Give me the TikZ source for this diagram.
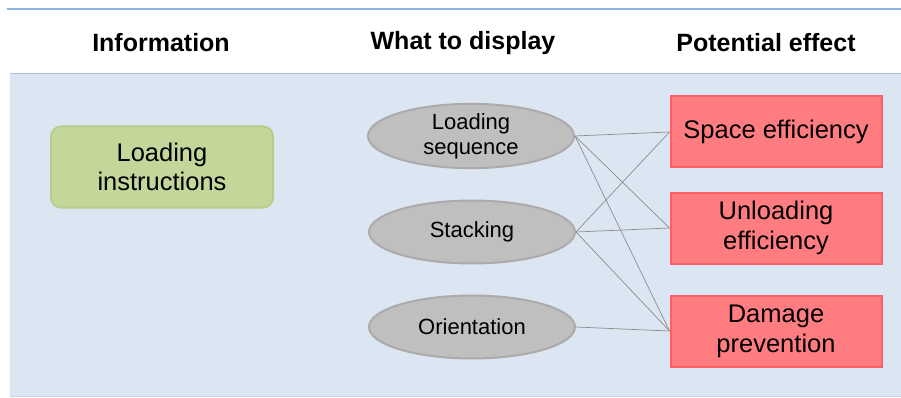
\documentclass[tikz,border=0pt]{standalone}
\usepackage{fontspec}
\setmainfont{Liberation Sans}
\usetikzlibrary{shapes.geometric}
\definecolor{ruleblue}{HTML}{8EB4E3}
\definecolor{panelblue}{HTML}{DCE6F2}
\definecolor{paneledge}{HTML}{C6D4E8}
\definecolor{greenfill}{HTML}{C4D79B}
\definecolor{greenline}{HTML}{B7CD8C}
\definecolor{grayfill}{HTML}{BFBFBF}
\definecolor{grayline}{HTML}{ABABAB}
\definecolor{redfill}{HTML}{FF7C80}
\definecolor{redline}{HTML}{FF5F64}
\definecolor{linkgray}{HTML}{8C8C8C}

\begin{document}
\begin{tikzpicture}[x=1pt, y=-1pt,
  head/.style={font=\fontsize{25}{29}\selectfont\bfseries},
  info/.style={draw=greenline, fill=greenfill, line width=2pt, rounded corners=10pt,
    minimum width=222pt, minimum height=81pt, align=center,
    font=\fontsize{25.5}{29.5}\selectfont},
  choice/.style={ellipse, draw=grayline, fill=grayfill, line width=2pt,
    minimum width=206pt, minimum height=63pt, inner sep=0pt, align=center,
    font=\fontsize{22}{25}\selectfont},
  effect/.style={rectangle, draw=redline, fill=redfill, line width=2pt,
    minimum width=211pt, minimum height=71pt, align=center,
    font=\fontsize{25.5}{30}\selectfont},
  link/.style={draw=linkgray, line width=0.7pt}]
\useasboundingbox (0,0) rectangle (901,398);
% header band and panel
\fill[panelblue] (10,74) rectangle (901,396);
\draw[paneledge, line width=1.5pt] (10,396.5) -- (901,396.5);
\draw[ruleblue, line width=1.5pt] (7,9) -- (901,9);
\draw[ruleblue!80, line width=1.5pt] (10,73.5) -- (901,73.5);
\node[head] (h1) at (161,43) {Information};
\node[head] (h2) at (463,43) {What to display};
\node[head] (h3) at (766,43) {Potential effect};
% nodes
\node[info] (instr) at (162,167) {Loading\\instructions};
\node[choice] (seq) at (471,136) {Loading\\sequence};
\node[choice] (stack) at (472,232) {Stacking};
\node[choice] (orient) at (472,327) {Orientation};
\node[effect] (space) at (776,132) {Space efficiency};
\node[effect] (unload) at (776,228) {Unloading\\efficiency};
\node[effect] (damage) at (776,331) {Damage\\prevention};
% links
\draw[link] (seq.east) -- (space.west);
\draw[link] (seq.east) -- (unload.west);
\draw[link] (seq.east) -- (damage.west);
\draw[link] (stack.east) -- (space.west);
\draw[link] (stack.east) -- (unload.west);
\draw[link] (stack.east) -- (damage.west);
\draw[link] (orient.east) -- (damage.west);
\end{tikzpicture}
\end{document}
